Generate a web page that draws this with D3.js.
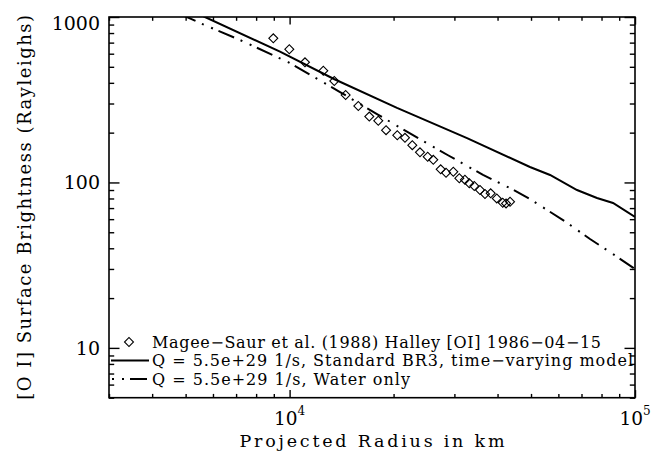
<!DOCTYPE html>
<html>
<head>
<meta charset="utf-8">
<script src="https://cdn.jsdelivr.net/npm/d3@7"></script>
<style>
  body { margin: 0; background: #fff; }
  svg { display: block; }
  text { font-family: "DejaVu Serif", serif; fill: #000; }
</style>
</head>
<body>
<svg id="chart" width="663" height="459"></svg>
<script>
// Observed [OI] surface brightness, Magee-Saur et al. (1988), Halley 1986-04-15
const obsRadius = [8970, 9980, 11080, 12520, 13470, 14530, 15810, 17010, 18060, 19020,
  20500, 21580, 22660, 23850, 25110, 26060, 27380, 28370, 29780, 31000,
  32180, 33130, 34250, 35580, 36790, 38210, 39790, 41410, 42330, 43470];
const obsBrightness = [743, 638, 532, 474, 410, 338, 290, 250, 236, 207,
  193, 186, 168, 152, 143, 137, 120, 114.5, 116, 106,
  104, 98.8, 95.1, 90.0, 85.1, 85.9, 80.1, 75.4, 74.7, 76.4];

// Model, Q = 5.5e+29 1/s, standard BR3, time-varying
const br3Radius = [5150, 5690, 9380, 13440, 20460, 32640, 49650, 56760, 67940, 77610, 86370, 100000];
const br3Brightness = [1102, 1000, 617, 422, 282, 185.5, 124, 111, 90.0, 80.5, 75.1, 61.8];

// Model, Q = 5.5e+29 1/s, water only
const waterRadius = [4816, 5503, 7184, 9895, 13995, 17907, 22768, 28748, 36304, 44040,
  49650, 63130, 74090, 86370, 100000];
const waterBrightness = [1043, 920, 726, 534, 352, 259, 193, 146, 111, 91.2,
  79.4, 57.6, 45.5, 36.9, 30.0];

// Axis ticks
const xMajorTicks = [1e4, 1e5];
const xMajorExp = ["4", "5"];
const xMinorTicks = [3000, 4000, 5000, 6000, 7000, 8000, 9000,
  20000, 30000, 40000, 50000, 60000, 70000, 80000, 90000];
const yMajorTicks = [10, 100, 1000];
const yMajorLabels = ["10", "100", "1000"];
const yMinorTicks = [5, 6, 7, 8, 9, 20, 30, 40, 50, 60, 70, 80, 90,
  200, 300, 400, 500, 600, 700, 800, 900];

const legendLabels = [
  "Magee\u2212Saur et al. (1988) Halley [OI] 1986\u221204\u221215",
  "Q = 5.5e+29 1/s, Standard BR3, time\u2212varying model",
  "Q = 5.5e+29 1/s, Water only"
];

const xTitle = "Projected Radius in km";
const yTitle = "[O I] Surface Brightness (Rayleighs)";

const svg = d3.select("#chart");
const L = 109, R = 635, T = 17, B = 397.7;

const x = d3.scaleLog().domain([3000, 1e5]).range([L, R]);
const y = d3.scaleLog().domain([5, 1000]).range([B, T]);

const dashDot = "17,7,2,8,2,6";

svg.append("clipPath").attr("id", "plotClip")
  .append("rect").attr("x", L).attr("y", T).attr("width", R - L).attr("height", B - T);

// Ticks, pointing into the plot on all four sides
function tickAxis(axis, tr, vals, len) {
  const g = svg.append("g").attr("transform", tr)
    .call(axis.tickValues(vals).tickSizeInner(len).tickSizeOuter(0).tickFormat(""));
  g.select(".domain").remove();
  g.selectAll("line").attr("stroke", "#000").attr("stroke-width", 1.4);
  return g;
}
const xMaj = 7.6, xMin = 3.8, yMaj = 10.5, yMin = 5.2;
tickAxis(d3.axisBottom(x), `translate(0,${B})`, xMajorTicks, -xMaj);
tickAxis(d3.axisBottom(x), `translate(0,${B})`, xMinorTicks, -xMin);
tickAxis(d3.axisTop(x), `translate(0,${T})`, xMajorTicks, -xMaj);
tickAxis(d3.axisTop(x), `translate(0,${T})`, xMinorTicks, -xMin);
tickAxis(d3.axisLeft(y), `translate(${L},0)`, yMajorTicks, -yMaj);
tickAxis(d3.axisLeft(y), `translate(${L},0)`, yMinorTicks, -yMin);
tickAxis(d3.axisRight(y), `translate(${R},0)`, yMajorTicks, -yMaj);
tickAxis(d3.axisRight(y), `translate(${R},0)`, yMinorTicks, -yMin);

// Frame
svg.append("rect").attr("x", L).attr("y", T).attr("width", R - L).attr("height", B - T)
  .attr("fill", "none").attr("stroke", "#000").attr("stroke-width", 1.6);

// Tick labels
svg.append("g").selectAll("text").data(yMajorTicks).join("text")
  .attr("x", L - 9)
  .attr("y", d => Math.max(y(d), T + 6.5))
  .attr("dy", "0.36em")
  .attr("text-anchor", "end")
  .attr("font-size", 19)
  .text((d, i) => yMajorLabels[i]);

const xl = svg.append("g").selectAll("text").data(xMajorTicks).join("text")
  .attr("x", d => x(d))
  .attr("y", B + 27.5)
  .attr("text-anchor", "middle")
  .attr("font-size", 18.5);
xl.append("tspan").text("10");
xl.append("tspan").attr("font-size", 12).attr("dy", -10).text((d, i) => xMajorExp[i]);

// Axis titles
svg.append("text").attr("x", (L + R) / 2).attr("y", 447)
  .attr("text-anchor", "middle").attr("font-size", 17.5)
  .attr("textLength", 265).attr("lengthAdjust", "spacing")
  .text(xTitle);
svg.append("text").attr("transform", `translate(31,${(T + B) / 2}) rotate(-90)`)
  .attr("text-anchor", "middle").attr("font-size", 18)
  .attr("textLength", 385).attr("lengthAdjust", "spacing")
  .text(yTitle);

// Curves
const plot = svg.append("g").attr("clip-path", "url(#plotClip)");
const line = d3.line().x(d => x(d[0])).y(d => y(d[1]));

plot.append("path")
  .datum(d3.zip(br3Radius, br3Brightness))
  .attr("d", line).attr("fill", "none").attr("stroke", "#000").attr("stroke-width", 2);

plot.append("path")
  .datum(d3.zip(waterRadius, waterBrightness))
  .attr("d", line).attr("fill", "none").attr("stroke", "#000").attr("stroke-width", 2)
  .attr("stroke-dasharray", dashDot);

// Observed points as open diamonds
const diamond = d3.symbol().type(d3.symbolSquare).size(40);
plot.append("g").selectAll("path").data(d3.zip(obsRadius, obsBrightness)).join("path")
  .attr("d", diamond)
  .attr("transform", d => `translate(${x(d[0])},${y(d[1])}) rotate(45)`)
  .attr("fill", "none").attr("stroke", "#000").attr("stroke-width", 1.1);

// Legend
const rowY = [342, 360.5, 379];
const textX = 152;
const textLen = [449, 481, 258];
const lg = svg.append("g");
lg.append("path").attr("d", diamond)
  .attr("transform", `translate(129,${rowY[0]}) rotate(45)`)
  .attr("fill", "none").attr("stroke", "#000").attr("stroke-width", 1.1);
lg.append("line").attr("x1", L + 2).attr("x2", 149).attr("y1", rowY[1]).attr("y2", rowY[1])
  .attr("stroke", "#000").attr("stroke-width", 2);
lg.append("line").attr("x1", L + 3).attr("x2", 149).attr("y1", rowY[2]).attr("y2", rowY[2])
  .attr("stroke", "#000").attr("stroke-width", 2).attr("stroke-dasharray", "2,8,2,6,17");
lg.selectAll("text").data(legendLabels).join("text")
  .attr("x", textX)
  .attr("y", (d, i) => rowY[i])
  .attr("dy", "0.36em")
  .attr("font-size", 16)
  .attr("textLength", (d, i) => textLen[i]).attr("lengthAdjust", "spacing")
  .text(d => d);
</script>
</body>
</html>
